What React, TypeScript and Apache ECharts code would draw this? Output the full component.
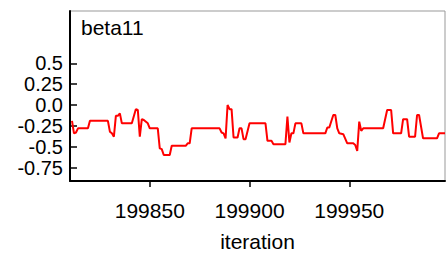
import React, { useEffect, useRef } from "react";
import * as echarts from "echarts";

const iterations = [
  199811, 199812, 199813, 199814, 199819, 199820, 199829, 199830, 199831, 199832,
  199833, 199834, 199835, 199836, 199841, 199843, 199844, 199845, 199846, 199847,
  199849, 199850, 199854, 199855, 199856, 199857, 199860, 199861, 199868, 199869,
  199870, 199871, 199885, 199886, 199887, 199888, 199889, 199890, 199891, 199892,
  199894, 199895, 199896, 199897, 199898, 199900, 199908, 199909, 199911, 199912,
  199918, 199919, 199920, 199921, 199922, 199923, 199926, 199927, 199938, 199939,
  199940, 199942, 199943, 199944, 199945, 199947, 199949, 199952, 199953, 199954,
  199955, 199956, 199957, 199967, 199969, 199971, 199972, 199976, 199977, 199979,
  199980, 199983, 199984, 199985, 199987, 199994, 199995, 199998,
];
const beta11 = [
  -0.19, -0.34, -0.33, -0.28, -0.28, -0.19, -0.19, -0.32, -0.34, -0.38,
  -0.13, -0.13, -0.1, -0.22, -0.22, -0.05, -0.06, -0.38, -0.17, -0.18,
  -0.22, -0.28, -0.28, -0.52, -0.53, -0.6, -0.6, -0.49, -0.49, -0.46,
  -0.46, -0.28, -0.28, -0.33, -0.34, -0.4, 0.0, -0.05, -0.05, -0.39,
  -0.39, -0.28, -0.28, -0.41, -0.41, -0.22, -0.22, -0.43, -0.43, -0.47,
  -0.47, -0.14, -0.45, -0.34, -0.34, -0.22, -0.22, -0.34, -0.34, -0.27,
  -0.27, -0.12, -0.12, -0.28, -0.34, -0.35, -0.46, -0.46, -0.48, -0.55,
  -0.2, -0.31, -0.28, -0.28, -0.06, -0.06, -0.34, -0.34, -0.17, -0.17,
  -0.38, -0.38, -0.12, -0.12, -0.4, -0.4, -0.34, -0.34,
];
const yTicks = [-0.75, -0.5, -0.25, 0, 0.25, 0.5];
const xTicks = [199850, 199900, 199950];
const titleText = "beta11";
const xName = "iteration";

const FONT = "'Liberation Sans', Arial, sans-serif";

export default function App() {
  const ref = useRef<HTMLDivElement>(null);
  useEffect(() => {
    if (!ref.current) return;
    const chart = echarts.init(ref.current, undefined, { renderer: "svg" });
    chart.setOption({
      animation: false,
      textStyle: { fontFamily: FONT },
      grid: {
        left: 70,
        right: 1,
        top: 11,
        bottom: 76,
        show: true,
        borderColor: "#999",
        borderWidth: 1,
        containLabel: false,
      },
      graphic: [
        {
          type: "text",
          left: 81,
          top: 17,
          style: { text: titleText, font: `21px ${FONT}`, fill: "#000" },
        },
      ],
      xAxis: {
        type: "value",
        min: 199810,
        max: 199998,
        name: xName,
        nameLocation: "middle",
        nameGap: 50,
        nameTextStyle: { fontSize: 21, color: "#000", fontFamily: FONT },
        axisLine: { show: true, onZero: false, lineStyle: { color: "#000", width: 2 } },
        axisTick: {
          show: true,
          inside: false,
          length: 6,
          customValues: xTicks,
          lineStyle: { color: "#000", width: 1.5 },
        },
        axisLabel: {
          customValues: xTicks,
          fontSize: 21,
          color: "#000",
          margin: 19,
          fontFamily: FONT,
          formatter: (v: number) => String(v),
        },
        splitLine: { show: false },
      },
      yAxis: {
        type: "value",
        min: -0.912,
        max: 1.128,
        axisLine: { show: true, onZero: false, lineStyle: { color: "#000", width: 2 } },
        axisTick: {
          show: true,
          inside: true,
          length: 7,
          customValues: yTicks,
          lineStyle: { color: "#000", width: 1.5 },
        },
        axisLabel: {
          customValues: yTicks,
          fontSize: 20,
          color: "#000",
          margin: 7,
          fontFamily: FONT,
          formatter: (v: number) => (v === 0 ? "0.0" : String(v)),
        },
        splitLine: { show: false },
      },
      series: [
        {
          type: "line",
          data: iterations.map((it, i) => [it, beta11[i]]),
          showSymbol: false,
          symbol: "none",
          lineStyle: { color: "#ff0000", width: 2 },
        },
      ],
    });
    return () => chart.dispose();
  }, []);
  return <div ref={ref} style={{ width: 446, height: 257, position: "absolute", left: 0, top: 0 }} />;
}
